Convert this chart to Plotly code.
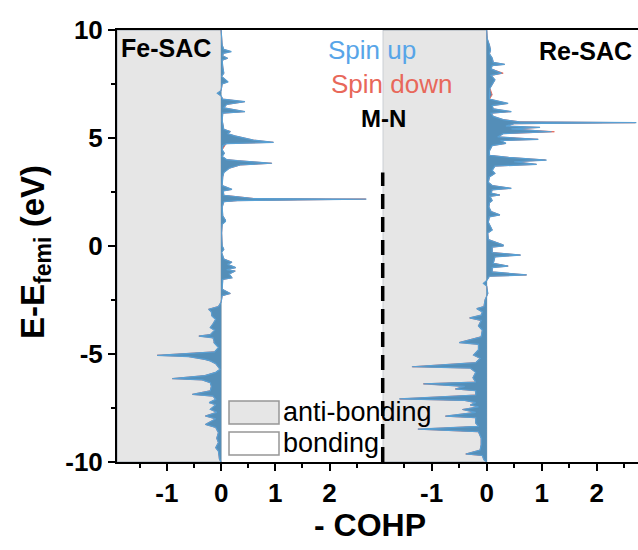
import plotly.graph_objects as go

# ---------------- data ----------------
fe_energy = [10.0, 9.3, 9.1, 9.0, 8.92, 8.8, 8.69, 8.6, 8.3, 8.0, 7.85, 7.6, 7.5, 7.2, 7.07, 6.95,
             6.8, 6.68, 6.55, 6.4, 6.22, 6.15, 5.8, 5.4, 5.3, 5.2, 5.1, 5.0, 4.9, 4.8, 4.74, 4.65,
             4.45, 4.29, 4.15, 4.0, 3.95, 3.83, 3.75, 3.6, 3.4, 3.2, 2.8, 2.62, 2.55, 2.35, 2.28,
             2.2, 2.17, 2.1, 2.05, 1.8, 1.4, 1.2, 1.13, 1.0, 0.6, 0.0, -0.15, -0.3, -0.6, -0.75,
             -0.85, -1.0, -1.1, -1.16, -1.3, -1.47, -1.55, -2.0, -2.2, -2.3, -2.6, -2.8, -2.93,
             -3.05, -3.24, -3.4, -3.6, -3.78, -3.9, -4.1, -4.17, -4.25, -4.4, -4.48, -4.7, -4.9,
             -5.06, -5.12, -5.25, -5.32, -5.45, -5.6, -5.71, -5.85, -6.0, -6.14, -6.2, -6.33,
             -6.5, -6.7, -6.87, -6.95, -7.1, -7.25, -7.35, -7.56, -7.7, -7.87, -8.0, -8.26, -8.4,
             -8.64, -8.9, -9.1, -9.34, -9.5, -9.88, -10.0]
fe_up = [0.0, 0.02, 0.05, 0.19, 0.04, 0.03, 0.12, 0.02, 0.03, 0.05, 0.01, 0.13, 0.02, 0.0, -0.07, 0.0,
         0.03, 0.44, 0.1, 0.05, 0.44, 0.03, 0.02, 0.05, 0.17, 0.12, 0.25, 0.4, 0.6, 0.97, 0.1, 0.03,
         0.02, 0.06, 0.02, 0.1, 0.3, 0.94, 0.35, 0.15, 0.05, 0.03, 0.02, 0.2, 0.04, 0.05, 0.35,
         0.6, 2.68, 0.3, 0.05, 0.02, 0.03, 0.08, 0.08, 0.02, 0.01, 0.02, 0.05, 0.01, 0.05, 0.2,
         0.12, 0.27, 0.1, 0.26, 0.15, 0.2, 0.03, 0.02, 0.17, 0.02, 0.0, -0.05, -0.23,
         -0.18, -0.17, -0.1, -0.15, -0.2, -0.12, -0.2, -0.41, -0.15, -0.13, -0.13, -0.05, -0.12,
         -1.18, -0.6, -0.3, -0.2, -0.1, -0.05, -0.02, -0.1, -0.3, -0.9, -0.35, -0.2,
         -0.18, -0.2, -0.53, -0.15, -0.1, -0.22, -0.1, -0.2, -0.08, -0.29, -0.1, -0.29, -0.1,
         -0.05, -0.08, -0.05, -0.1, -0.05, -0.03, 0.0]
fe_down = [0.0, 0.02, 0.05, 0.18, 0.04, 0.03, 0.12, 0.02, 0.03, 0.05, 0.01, 0.12, 0.02, 0.0, -0.07, 0.0,
           0.03, 0.43, 0.1, 0.05, 0.43, 0.03, 0.02, 0.05, 0.17, 0.12, 0.25, 0.4, 0.6, 0.96, 0.1, 0.07,
           0.02, 0.06, 0.02, 0.1, 0.3, 0.93, 0.35, 0.15, 0.05, 0.03, 0.02, 0.2, 0.04, 0.05, 0.35,
           0.6, 2.67, 0.3, 0.05, 0.02, 0.03, 0.08, 0.08, 0.02, 0.01, 0.02, 0.05, 0.01, 0.05, 0.2,
           0.12, 0.27, 0.1, 0.26, 0.15, 0.2, 0.03, 0.02, 0.17, 0.02, 0.0, -0.05, -0.23,
           -0.18, -0.17, -0.1, -0.15, -0.2, -0.12, -0.2, -0.41, -0.15, -0.13, -0.13, -0.05, -0.12,
           -1.18, -0.6, -0.3, -0.2, -0.1, -0.05, -0.02, -0.1, -0.3, -0.9, -0.35, -0.2,
           -0.18, -0.2, -0.53, -0.15, -0.1, -0.22, -0.1, -0.2, -0.08, -0.29, -0.1, -0.29, -0.1,
           -0.05, -0.08, -0.05, -0.1, -0.05, -0.03, 0.0]

re_energy = [10.0, 9.6, 9.3, 9.07, 8.9, 8.7, 8.5, 8.41, 8.35, 8.2, 8.0, 7.9, 7.69, 7.5, 7.3, 7.0,
             6.8, 6.6, 6.5, 6.35, 6.22, 6.15, 6.0, 5.85, 5.75, 5.71, 5.66, 5.55, 5.49, 5.42, 5.29,
             5.2, 5.05, 4.94, 4.88, 4.75, 4.65, 4.4, 4.2, 4.1, 3.98, 3.9, 3.78, 3.7, 3.5, 3.36,
             3.2, 2.95, 2.8, 2.67, 2.6, 2.45, 2.36, 2.3, 2.1, 2.0, 1.8, 1.6, 1.44, 1.35, 1.1, 0.74,
             0.6, 0.3, 0.05, 0.0, -0.05, -0.3, -0.42, -0.5, -0.8, -0.93, -1.0, -1.2, -1.34, -1.4,
             -1.6, -1.73, -1.85, -2.2, -2.5, -2.8, -2.9, -3.05, -3.2, -3.33, -3.45, -3.7, -3.9,
             -4.2, -4.47, -4.55, -4.8, -5.05, -5.2, -5.4, -5.59, -5.65, -5.85, -6.1, -6.3, -6.38,
             -6.5, -6.62, -6.7, -6.9, -7.08, -7.15, -7.25, -7.36, -7.45, -7.57, -7.7, -7.88,
             -7.95, -8.2, -8.35, -8.48, -8.6, -8.9, -9.2, -9.45, -9.63, -9.7, -9.9, -10.0]
re_up = [0.0, 0.01, 0.05, 0.07, 0.05, 0.1, 0.12, 0.33, 0.1, 0.08, 0.27, 0.08, 0.15, 0.1, 0.06, 0.05,
         0.05, 0.39, 0.1, 0.12, 0.45, 0.08, 0.12, 0.3, 0.6, 2.72, 0.5, 0.35, 0.97, 0.45, 1.18,
         0.3, 0.2, 0.94, 0.25, 0.35, 0.1, 0.05, 0.05, 0.4, 1.09, 0.5, 0.91, 0.15, 0.1, 0.15,
         0.05, 0.03, 0.1, 0.45, 0.1, 0.08, 0.24, 0.06, 0.1, 0.05, 0.04, 0.08, 0.24, 0.05, 0.03, 0.1,
         0.02, 0.03, 0.3, 0.3, 0.1, 0.1, 0.62, 0.15, 0.12, 0.39, 0.1, 0.1, 0.73, 0.05,
         0.0, -0.06, 0.0, 0.02, -0.03, -0.05, -0.18, -0.08, -0.1, -0.31, -0.1, -0.15, -0.08,
         -0.1, -0.5, -0.15, -0.15, -0.24, -0.12, -0.2, -1.36, -0.3, -0.2, -0.25, -0.2, -1.15,
         -0.4, -0.57, -0.2, -0.2, -1.59, -0.4, -0.2, -0.3, -0.15, -0.44, -0.2, -0.75,
         -0.2, -0.2, -0.15, -1.25, -0.15, -0.1, -0.1, -0.12, -0.38, -0.08, -0.05, 0.0]
re_down = [0.0, 0.01, 0.05, 0.07, 0.05, 0.1, 0.12, 0.32, 0.1, 0.08, 0.3, 0.08, 0.15, 0.1, 0.06, 0.1,
           0.05, 0.38, 0.1, 0.12, 0.44, 0.08, 0.12, 0.3, 0.6, 2.7, 0.5, 0.35, 0.96, 0.45, 1.23,
           0.3, 0.2, 0.93, 0.25, 0.35, 0.1, 0.05, 0.05, 0.4, 1.07, 0.5, 0.9, 0.15, 0.1, 0.15,
           0.05, 0.03, 0.1, 0.44, 0.1, 0.08, 0.24, 0.06, 0.1, 0.05, 0.04, 0.08, 0.24, 0.05, 0.03, 0.1,
           0.02, 0.03, 0.3, 0.3, 0.1, 0.1, 0.61, 0.15, 0.12, 0.39, 0.1, 0.1, 0.72, 0.05,
           0.0, -0.06, 0.0, 0.02, -0.03, -0.05, -0.18, -0.08, -0.1, -0.31, -0.1, -0.15, -0.08,
           -0.1, -0.5, -0.15, -0.15, -0.24, -0.12, -0.2, -1.35, -0.3, -0.2, -0.25, -0.2, -1.15,
           -0.4, -0.57, -0.2, -0.2, -1.58, -0.4, -0.2, -0.3, -0.15, -0.44, -0.2, -0.75,
           -0.2, -0.2, -0.15, -1.25, -0.15, -0.1, -0.1, -0.12, -0.38, -0.08, -0.05, 0.0]

y_tickvals = [-10, -5, 0, 5, 10]
y_ticktext = ["-10", "-5", "0", "5", "10"]
x_tickvals = [-1, 0, 1, 2]
x_ticktext = ["-1", "0", "1", "2"]
x_minor = [-1.5, -0.5, 0.5, 1.5, 2.5]
y_minor = [-7.5, -2.5, 2.5, 7.5]

fe_range = [-1.92, 2.98]
re_range = [-1.89, 2.75]
dash_top = 3.4

# ---------------- styling ----------------
FONT = "Liberation Sans, Arial, sans-serif"
FILL = "rgb(84,142,184)"
UP_LINE = "rgb(88,160,212)"
DOWN_LINE = "rgb(232,108,94)"
GRAY = "rgb(230,230,230)"
W, H = 638, 550
ML, MR, MT, MB = 117, 0, 30, 88
split = (382.7 - ML) / (W - ML - MR)

fig = go.Figure()

def add_pair(energy, down, up, xa):
    fig.add_trace(go.Scatter(x=down, y=energy, mode="lines", fill="tozerox",
                             fillcolor=FILL, line=dict(color=DOWN_LINE, width=1),
                             xaxis=xa, yaxis="y", showlegend=False, hoverinfo="skip"))
    fig.add_trace(go.Scatter(x=up, y=energy, mode="lines", fill="tozerox",
                             fillcolor=FILL, line=dict(color=UP_LINE, width=1.2),
                             xaxis=xa, yaxis="y", showlegend=False, hoverinfo="skip"))

add_pair(fe_energy, fe_down, fe_up, "x")
add_pair(re_energy, re_down, re_up, "x2")

# anti-bonding shaded regions
shapes = [
    dict(type="rect", xref="x", yref="y", x0=fe_range[0], x1=0, y0=-10, y1=10,
         fillcolor=GRAY, line=dict(color="rgb(160,170,180)", width=1), layer="below"),
    dict(type="rect", xref="x2", yref="y", x0=re_range[0], x1=0, y0=-10, y1=10,
         fillcolor=GRAY, line=dict(color="rgb(160,170,180)", width=1), layer="below"),
    # dashed separator between the two panels
    dict(type="line", xref="paper", yref="y", x0=split, x1=split, y0=-10, y1=dash_top,
         line=dict(color="black", width=3.5, dash="15px,8px")),
]

def px_x(p):
    return (p - ML) / (W - ML - MR)

def px_y(p):
    return 1 - (p - MT) / (H - MT - MB)

# legend boxes
shapes.append(dict(type="rect", xref="paper", yref="paper", x0=px_x(229), x1=px_x(279),
                   y0=px_y(424), y1=px_y(401), fillcolor=GRAY,
                   line=dict(color="rgb(150,150,150)", width=1.5)))
shapes.append(dict(type="rect", xref="paper", yref="paper", x0=px_x(229), x1=px_x(279),
                   y0=px_y(455), y1=px_y(432), fillcolor="white",
                   line=dict(color="rgb(150,150,150)", width=1.5)))

ann = [
    dict(text="Fe-SAC", x=px_x(166), y=px_y(48), font=dict(size=25, color="black", family=FONT, weight="bold")),
    dict(text="Re-SAC", x=px_x(585), y=px_y(51), font=dict(size=25, color="black", family=FONT, weight="bold")),
    dict(text="Spin up", x=px_x(372), y=px_y(50), font=dict(size=26, color="rgb(88,165,232)", family=FONT)),
    dict(text="Spin down", x=px_x(391), y=px_y(84), font=dict(size=26, color="rgb(232,104,90)", family=FONT)),
    dict(text="M-N", x=px_x(383), y=px_y(118), font=dict(size=24, color="black", family=FONT, weight="bold")),
    dict(text="anti-bonding", x=px_x(281), y=px_y(412), xanchor="left",
         font=dict(size=27, color="black", family=FONT)),
    dict(text="bonding", x=px_x(281), y=px_y(443), xanchor="left",
         font=dict(size=27, color="black", family=FONT)),
    dict(text="E-E<sub>femi</sub> (eV)", x=px_x(35), y=px_y(252), textangle=-90,
         font=dict(size=33, color="black", family=FONT, weight="bold")),
    dict(text="- COHP", x=px_x(370), y=px_y(525),
         font=dict(size=32, color="black", family=FONT, weight="bold")),
]
for a in ann:
    a.setdefault("xanchor", "center")
    a.update(xref="paper", yref="paper", yanchor="middle", showarrow=False)

xcommon = dict(tickmode="array", tickvals=x_tickvals, ticktext=x_ticktext,
               ticks="outside", ticklen=7, tickwidth=2, tickcolor="black",
               minor=dict(tickmode="array", tickvals=x_minor, ticks="outside", ticklen=4,
                          tickwidth=2, tickcolor="black"),
               showline=True, linewidth=2, linecolor="black", mirror=True,
               showgrid=False, zeroline=False,
               tickfont=dict(size=26, color="black", family=FONT, weight="bold"))

fig.update_layout(
    width=W, height=H, margin=dict(l=ML, r=MR, t=MT, b=MB),
    paper_bgcolor="white", plot_bgcolor="white",
    xaxis=dict(domain=[0, split], range=fe_range, anchor="y", **xcommon),
    xaxis2=dict(domain=[split, 1], range=re_range, anchor="y", **xcommon),
    yaxis=dict(range=[-10, 10], tickmode="array", tickvals=y_tickvals, ticktext=y_ticktext,
               ticks="outside", ticklen=7, tickwidth=2, tickcolor="black",
               minor=dict(tickmode="array", tickvals=y_minor, ticks="outside", ticklen=4,
                          tickwidth=2, tickcolor="black"),
               showline=True, linewidth=2, linecolor="black", mirror=False,
               showgrid=False, zeroline=False,
               tickfont=dict(size=26, color="black", family=FONT, weight="bold")),
    shapes=shapes, annotations=ann, showlegend=False,
)

fig.write_html("out.html")
